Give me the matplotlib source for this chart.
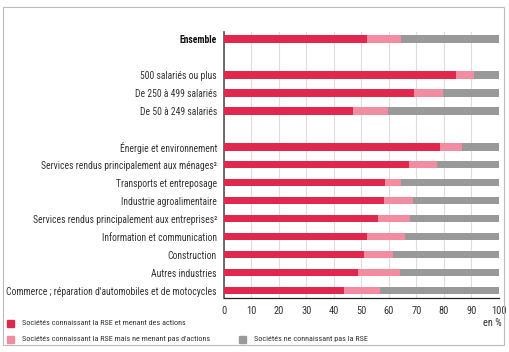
import matplotlib.pyplot as plt
from matplotlib.patches import Rectangle

categories = [
    "Ensemble",
    "500 salariés ou plus",
    "De 250 à 499 salariés",
    "De 50 à 249 salariés",
    "Énergie et environnement",
    "Services rendus principalement aux ménages²",
    "Transports et entreposage",
    "Industrie agroalimentaire",
    "Services rendus principalement aux entreprises²",
    "Information et communication",
    "Construction",
    "Autres industries",
    "Commerce ; réparation d'automobiles et de motocycles",
]
rows = [0, 2, 3, 4, 6, 7, 8, 9, 10, 11, 12, 13, 14]

actions = [52.2, 84.5, 69.0, 47.1, 78.6, 67.2, 58.5, 58.1, 56.1, 52.2, 51.0, 48.8, 43.8]
no_actions = [12.2, 6.6, 10.7, 12.7, 7.9, 10.2, 5.8, 10.7, 11.7, 13.8, 10.5, 15.2, 12.9]
unknown = [100 - a - b for a, b in zip(actions, no_actions)]

legend_labels = [
    "Sociétés connaissant la RSE et menant des actions",
    "Sociétés connaissant la RSE mais ne menant pas d'actions",
    "Sociétés ne connaissant pas la RSE",
]
colors = ["#e0284f", "#f28da1", "#999999"]

plt.rcParams['font.family'] = ['Roboto Condensed', 'DejaVu Sans']

fig = plt.figure(figsize=(5.1, 3.52), dpi=100)
ax = fig.add_axes([0.439, 0.1534, 0.539, 0.7563])

h = 0.4
left = [0] * len(rows)
for vals, col in zip([actions, no_actions, unknown], colors):
    ax.barh(rows, vals, left=left, height=h, color=col, linewidth=0, zorder=3)
    left = [l + v for l, v in zip(left, vals)]

ax.set_xlim(0, 100)
ax.set_ylim(14.4, -0.4)
ax.set_xticks(range(0, 101, 10))
ax.set_xticklabels([str(v) for v in range(0, 101, 10)], fontsize=7.5, color="#333333")
ax.tick_params(axis='x', length=0, pad=6)
ax.set_yticks(rows)
labels = ax.set_yticklabels(categories, fontsize=6.95, color="#333333")
labels[0].set_fontweight('bold')
labels[0].set_color('#111111')
ax.tick_params(axis='y', length=0, pad=5)
ax.grid(axis='x', color="#dddddd", linewidth=0.8, zorder=0)
for s in ['top', 'right']:
    ax.spines[s].set_visible(False)
ax.spines['left'].set_color('#555555')
ax.spines['left'].set_linewidth(1.2)
ax.spines['bottom'].set_color('#222222')
ax.spines['bottom'].set_linewidth(0.9)

fig.text(502 / 510, 1 - 323 / 352, "en %", ha='right', va='center', fontsize=7.5, color="#333333")

# legend
leg_pos = [(10, 323), (10, 339), (242, 339)]
for (x, y), lab, col in zip(leg_pos, legend_labels, colors):
    fig.patches.append(Rectangle(((x - 3) / 510, 1 - (y + 3.5) / 352), 7 / 510, 7 / 352,
                                 transform=fig.transFigure, color=col))
    fig.text((x + 12) / 510, 1 - y / 352, lab, ha='left', va='center', fontsize=5.9, color="#333333")

# frame
fig.patches.append(Rectangle((3 / 510, 1 - 345 / 352), 501 / 510, 338 / 352,
                             transform=fig.transFigure, fill=False, edgecolor="#bbbbbb", linewidth=0.8))

fig.savefig("out.png", dpi=100, facecolor="white")
